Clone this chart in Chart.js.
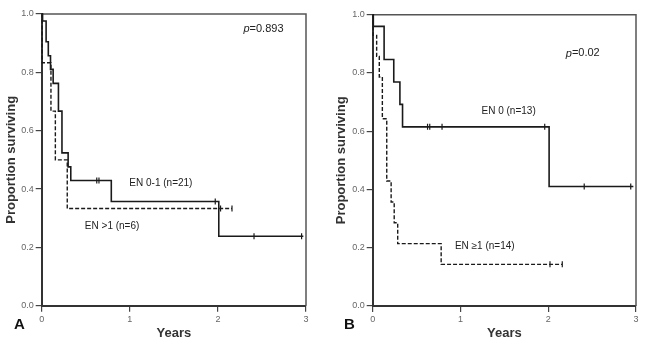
<!DOCTYPE html>
<html>
<head>
<meta charset="utf-8">
<script src="https://cdn.jsdelivr.net/npm/chart.js@4.4.0/dist/chart.umd.min.js"></script>
<style>
html, body { margin: 0; padding: 0; background: #fff; }
#wrap { position: relative; width: 650px; height: 347px; }
canvas { position: absolute; top: 0; }
#chartA { left: 0; }
#chartB { left: 330px; }
</style>
</head>
<body>
<div id="wrap">
  <canvas id="chartA" width="325" height="347" style="width:325px;height:347px"></canvas>
  <canvas id="chartB" width="320" height="347" style="width:320px;height:347px"></canvas>
</div>
<script>
// axis ticks
const yearTicks = [0, 1, 2, 3];
const survTicks = [0, 0.2, 0.4, 0.6, 0.8, 1.0];

// Panel A - EN 0-1 (solid) and EN >1 (dashed)
const aLowTimes = [0, 0.01, 0.05, 0.075, 0.10, 0.13, 0.19, 0.23, 0.30, 0.33, 0.79, 2.01, 2.97];
const aLowSurv = [1, 0.976, 0.905, 0.857, 0.81, 0.762, 0.667, 0.524, 0.476, 0.429, 0.357, 0.238, 0.238];
const aLowCensorTimes = [0.625, 0.65, 1.97, 2.41, 2.95];
const aLowCensorSurv = [0.429, 0.429, 0.357, 0.238, 0.238];
const aHighTimes = [0, 0.005, 0.105, 0.155, 0.29, 2.16];
const aHighSurv = [1, 0.833, 0.667, 0.5, 0.333, 0.333];
const aHighCensorTimes = [2.03, 2.16];
const aHighCensorSurv = [0.333, 0.333];

// Panel B - EN 0 (solid) and EN >=1 (dashed)
const bLowTimes = [0, 0.007, 0.13, 0.24, 0.31, 0.34, 2.01, 2.97];
const bLowSurv = [1, 0.96, 0.846, 0.769, 0.692, 0.615, 0.41, 0.41];
const bLowCensorTimes = [0.625, 0.65, 0.79, 1.96, 2.41, 2.94];
const bLowCensorSurv = [0.615, 0.615, 0.615, 0.615, 0.41, 0.41];
const bHighTimes = [0, 0.005, 0.045, 0.075, 0.11, 0.16, 0.21, 0.245, 0.285, 0.78, 2.16];
const bHighSurv = [1, 0.929, 0.857, 0.786, 0.643, 0.429, 0.357, 0.286, 0.214, 0.143, 0.143];
const bHighCensorTimes = [2.02, 2.16];
const bHighCensorSurv = [0.143, 0.143];

// annotation texts
const aTexts = ['EN 0-1 (n=21)', 'EN >1 (n=6)'];
const bTexts = ['EN 0 (n=13)', 'EN \u22651 (n=14)'];
const aPValue = '=0.893';
const bPValue = '=0.02';

const FONT = '"Liberation Sans", Arial, sans-serif';

function toPoints(xs, ys) {
    return xs.map((x, i) => ({ x: x, y: ys[i] }));
}

function curve(xs, ys, dashed) {
    return {
        data: toPoints(xs, ys),
        showLine: true,
        stepped: 'before',
        borderColor: '#1a1a1a',
        borderWidth: dashed ? 1.4 : 1.6,
        borderDash: dashed ? [4, 2] : [],
        pointRadius: 0,
        clip: 6
    };
}

function censors(xs, ys) {
    return {
        data: toPoints(xs, ys),
        showLine: false,
        pointStyle: 'line',
        rotation: 90,
        pointRadius: 3,
        borderColor: '#1a1a1a',
        borderWidth: 1.2,
        clip: 6
    };
}

// top/right frame, panel letter and text notes
const panelDecor = {
    id: 'panelDecor',
    beforeDatasetsDraw(chart, args, opts) {
        const { ctx, chartArea } = chart;
        ctx.save();
        ctx.strokeStyle = '#555';
        ctx.lineWidth = 1.5;
        ctx.beginPath();
        ctx.moveTo(chartArea.left, chartArea.top);
        ctx.lineTo(chartArea.right, chartArea.top);
        ctx.lineTo(chartArea.right, chartArea.bottom);
        ctx.stroke();
        ctx.restore();
    },
    afterDraw(chart, args, opts) {
        const { ctx } = chart;
        const xs = chart.scales.x, ys = chart.scales.y;
        ctx.save();
        ctx.fillStyle = '#222';
        ctx.textBaseline = 'middle';
        ctx.textAlign = 'left';
        ctx.font = '10px ' + FONT;
        opts.notes.forEach(n => {
            ctx.fillText(n.text, xs.getPixelForValue(n.x), ys.getPixelForValue(n.y));
        });
        // p value with italic p
        const px = xs.getPixelForValue(opts.p.x), py = ys.getPixelForValue(opts.p.y);
        ctx.font = 'italic 11px ' + FONT;
        ctx.fillText('p', px, py);
        const w = ctx.measureText('p').width;
        ctx.font = '11px ' + FONT;
        ctx.fillText(opts.p.text, px + w, py);
        // panel letter
        ctx.fillStyle = '#111';
        ctx.font = 'bold 15px ' + FONT;
        ctx.textBaseline = 'alphabetic';
        ctx.fillText(opts.letter, 14, 329);
        ctx.restore();
    }
};

function makeChart(id, datasets, decor, yWidth, xHeight, top, right) {
    return new Chart(document.getElementById(id), {
        type: 'scatter',
        data: { datasets: datasets },
        plugins: [panelDecor],
        options: {
            responsive: false,
            animation: false,
            events: [],
            layout: { padding: { top: top, right: right, left: 0, bottom: 0 } },
            plugins: {
                legend: { display: false },
                tooltip: { enabled: false },
                panelDecor: decor
            },
            scales: {
                x: {
                    type: 'linear',
                    min: 0,
                    max: 3,
                    afterBuildTicks: s => { s.ticks = yearTicks.map(v => ({ value: v })); },
                    afterFit: s => { s.height = xHeight; },
                    ticks: { color: '#666', font: { family: FONT, size: 9 }, padding: 2 },
                    grid: { drawOnChartArea: false, drawTicks: true, tickLength: 6, color: '#444', lineWidth: 1.2 },
                    border: { display: true, color: '#333', width: 2 },
                    title: {
                        display: true, text: 'Years', color: '#333',
                        font: { family: FONT, size: 13, weight: 'bold' },
                        padding: { top: 0, bottom: 6 }
                    }
                },
                y: {
                    type: 'linear',
                    min: 0,
                    max: 1,
                    afterBuildTicks: s => { s.ticks = survTicks.map(v => ({ value: v })); },
                    afterFit: s => { s.width = yWidth; },
                    ticks: {
                        color: '#666', font: { family: FONT, size: 9 }, padding: 2,
                        callback: v => Number(v).toFixed(1)
                    },
                    grid: { drawOnChartArea: false, drawTicks: true, tickLength: 6, color: '#444', lineWidth: 1.2 },
                    border: { display: true, color: '#333', width: 2 },
                    title: {
                        display: true, text: 'Proportion surviving', color: '#333',
                        font: { family: FONT, size: 13, weight: 'bold' },
                        padding: { top: 4, bottom: 0 }
                    }
                }
            }
        }
    });
}

makeChart('chartA', [
    curve(aLowTimes, aLowSurv, false),
    curve(aHighTimes, aHighSurv, true),
    censors(aLowCensorTimes, aLowCensorSurv),
    censors(aHighCensorTimes, aHighCensorSurv)
], {
    letter: 'A',
    p: { text: aPValue, x: 2.29, y: 0.95 },
    notes: [
        { text: aTexts[0], x: 0.995, y: 0.419 },
        { text: aTexts[1], x: 0.49, y: 0.273 }
    ]
}, 41.7, 41.3, 14, 19);

makeChart('chartB', [
    curve(bLowTimes, bLowSurv, false),
    curve(bHighTimes, bHighSurv, true),
    censors(bLowCensorTimes, bLowCensorSurv),
    censors(bHighCensorTimes, bHighCensorSurv)
], {
    letter: 'B',
    p: { text: bPValue, x: 2.2, y: 0.867 },
    notes: [
        { text: bTexts[0], x: 1.24, y: 0.669 },
        { text: bTexts[1], x: 0.937, y: 0.204 }
    ]
}, 42.7, 41, 14.7, 14);
</script>
</body>
</html>
